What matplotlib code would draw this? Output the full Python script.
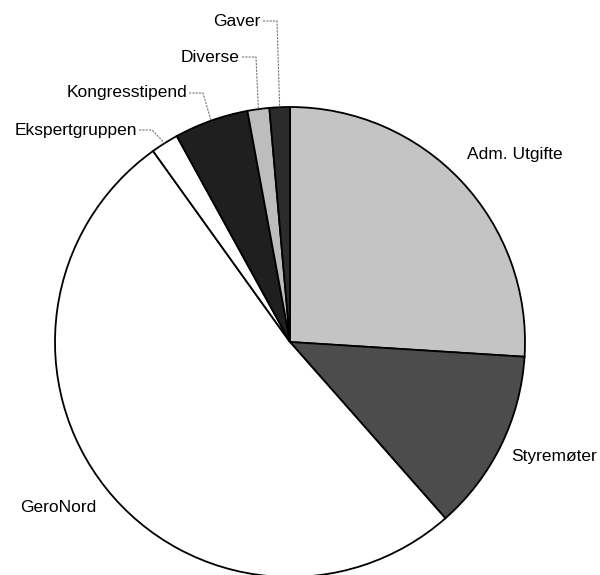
import numpy as np
import matplotlib
matplotlib.use("Agg")
import matplotlib.pyplot as plt

plt.rcParams['font.family'] = ['Liberation Sans', 'DejaVu Sans']

# budsjettposter (andel i prosent), med klokka fra toppen
poster = ['Adm. Utgifte', 'Styremøter', 'GeroNord', 'Ekspertgruppen',
          'Kongresstipend', 'Diverse', 'Gaver']
andel = [26.0, 12.5, 51.6, 1.9, 5.1, 1.5, 1.4]
farger = ['#c4c4c4', '#4c4c4c', '#ffffff', '#ffffff', '#1f1f1f', '#bdbdbd', '#2b2b2b']

W, H = 600, 575
FS = 12.5
fig = plt.figure(figsize=(W / 100, H / 100), dpi=100)
ax = fig.add_axes([0, 0, 1, 1])

cx, cy, r = 290, H - 342, 235
wedges, _ = ax.pie(andel, colors=farger, startangle=90, counterclock=False,
                   center=(cx, cy), radius=r, frame=True,
                   wedgeprops=dict(edgecolor='black', linewidth=1.3))
ax.set_xlim(0, W)
ax.set_ylim(0, H)
ax.set_aspect('equal')
ax.axis('off')

# etiketter uten linje
ax.text(467, H - 155, 'Adm. Utgifte', fontsize=FS, ha='left', va='center')
ax.text(597, H - 456, 'Styremøter', fontsize=FS, ha='right', va='center')
ax.text(20, H - 508, 'GeroNord', fontsize=FS, ha='left', va='center')

# etiketter med hjelpelinje: tekst (høyre kant, y) og knekkpunkt x
linjer = {'Ekspertgruppen': (137, 130, 152),
          'Kongresstipend': (187, 93, 203),
          'Diverse': (240, 57, 256),
          'Gaver': (261, 21, 277)}
for w, navn in zip(wedges, poster):
    if navn not in linjer:
        continue
    tx, ty, bx = linjer[navn]
    mid = np.deg2rad((w.theta1 + w.theta2) / 2)
    px, py = cx + r * np.cos(mid), cy + r * np.sin(mid)
    ax.text(tx, H - ty, navn, fontsize=FS, ha='right', va='center')
    ax.plot([tx + 2, bx, px], [H - ty, H - ty, py], color='#777777',
            linewidth=0.8, linestyle=(0, (2, 1)))

fig.savefig('out.png', dpi=100)
